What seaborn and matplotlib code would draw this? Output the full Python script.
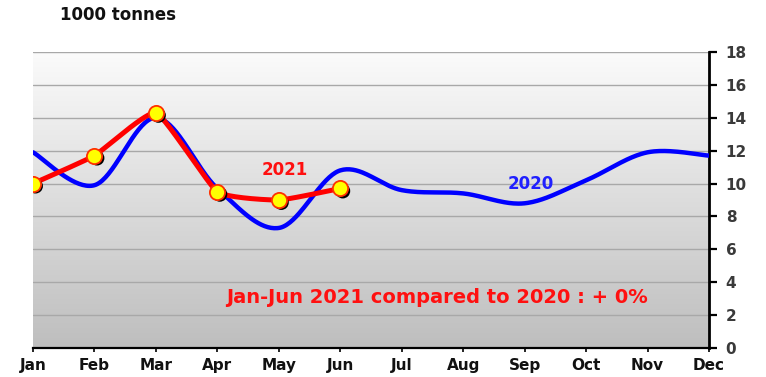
import numpy as np
import matplotlib
matplotlib.use("Agg")
import matplotlib.pyplot as plt
import matplotlib.transforms as mtransforms
import seaborn as sns

months = ["Jan", "Feb", "Mar", "Apr", "May", "Jun",
          "Jul", "Aug", "Sep", "Oct", "Nov", "Dec"]
values_2020 = [11.9, 9.9, 14.0, 9.7, 7.3, 10.8, 9.6, 9.4, 8.8, 10.2, 11.9, 11.7]
values_2021 = [10.0, 11.7, 14.3, 9.5, 9.0, 9.7]
y_ticks = [0, 2, 4, 6, 8, 10, 12, 14, 16, 18]


def smooth(xs, ys, k=6.0, n=40):
    """Catmull-Rom style Bezier smoothing through the given points."""
    xs = np.asarray(xs, float)
    ys = np.asarray(ys, float)
    px = np.concatenate([[xs[0]], xs, [xs[-1]]])
    py = np.concatenate([[ys[0]], ys, [ys[-1]]])
    out_x, out_y = [], []
    t = np.linspace(0, 1, n)
    for i in range(1, len(px) - 2):
        p0 = np.array([px[i], py[i]])
        p3 = np.array([px[i + 1], py[i + 1]])
        c1 = p0 + (np.array([px[i + 1], py[i + 1]]) - np.array([px[i - 1], py[i - 1]])) / k
        c2 = p3 - (np.array([px[i + 2], py[i + 2]]) - np.array([px[i], py[i]])) / k
        b = ((1 - t) ** 3)[:, None] * p0 + (3 * (1 - t) ** 2 * t)[:, None] * c1 \
            + (3 * (1 - t) * t ** 2)[:, None] * c2 + (t ** 3)[:, None] * p3
        out_x.extend(b[:, 0])
        out_y.extend(b[:, 1])
    return np.array(out_x), np.array(out_y)


sns.set_theme(style="white")
plt.rcParams["font.family"] = ["DejaVu Sans"]

fig = plt.figure(figsize=(7.66, 3.77), dpi=100)
ax = fig.add_axes([33 / 766, 1 - 348 / 377, (709 - 33) / 766, (348 - 52) / 377])

# Gradient background of the plot area: light at the top, grey at the bottom
grad = np.linspace(0, 1, 256)[:, None]
cmap = matplotlib.colors.LinearSegmentedColormap.from_list("bg", ["#fbfbfb", "#bebebe"])
ax.imshow(grad, aspect="auto", cmap=cmap, extent=[0, 11, 0, 18], origin="upper", zorder=0)

ax.set_xlim(0, 11)
ax.set_ylim(0, 18)

for yv in y_ticks[1:]:
    ax.axhline(yv, color="#a8a8a8", lw=1.0, zorder=1)

x_all = np.arange(len(months))
x21 = np.arange(len(values_2021))

sx, sy = smooth(x_all, values_2020, k=6.0)
sns.lineplot(x=sx, y=sy, sort=False, estimator=None, color="#0000ff", lw=3.2, ax=ax, zorder=3)

rx, ry = smooth(x21, values_2021, k=14.0)
sns.lineplot(x=rx, y=ry, sort=False, estimator=None, color="#ff0000", lw=3.6, ax=ax, zorder=4)

shadow = mtransforms.offset_copy(ax.transData, fig=fig, x=2.5, y=-2.5, units="dots")
sns.scatterplot(x=x21, y=values_2021, s=115, color="black", edgecolor="none",
                ax=ax, zorder=5, transform=shadow, legend=False)
sns.scatterplot(x=x21, y=values_2021, s=120, color="#ffff00", edgecolor="#ff3000",
                linewidth=1.3, ax=ax, zorder=6, legend=False)

ax.text(4.1, 10.8, "2021", color="#ff1010", fontsize=12, fontweight="bold",
        ha="center", va="center", zorder=7)
ax.text(8.1, 10.0, "2020", color="#2020ff", fontsize=12, fontweight="bold",
        ha="center", va="center", zorder=7)
ax.text(6.57, 3.1, "Jan-Jun 2021 compared to 2020 : + 0%", color="#ff1010",
        fontsize=14, fontweight="bold", ha="center", va="center", zorder=7)

ax.set_xticks(x_all)
ax.set_xticklabels(months, fontsize=11, fontweight="bold", color="#111111")
ax.set_yticks(y_ticks)
ax.set_yticklabels([str(v) for v in y_ticks], fontsize=11, fontweight="bold", color="#3a3a3a")
ax.yaxis.tick_right()
ax.tick_params(axis="y", direction="out", length=6, width=1.6, color="black", pad=6, right=True, left=False)
ax.tick_params(axis="x", direction="out", length=3, width=1.2, color="black", pad=4, bottom=True)

for side in ["left", "top"]:
    ax.spines[side].set_visible(False)
ax.spines["right"].set_color("black")
ax.spines["right"].set_linewidth(2)
ax.spines["bottom"].set_color("black")
ax.spines["bottom"].set_linewidth(1.6)
ax.set_xlabel("")
ax.set_ylabel("")

fig.text(60 / 766, 1 - 15 / 377, "1000 tonnes", fontsize=12, fontweight="bold",
         color="#111111", ha="left", va="center")

fig.savefig("out.png", dpi=100)
